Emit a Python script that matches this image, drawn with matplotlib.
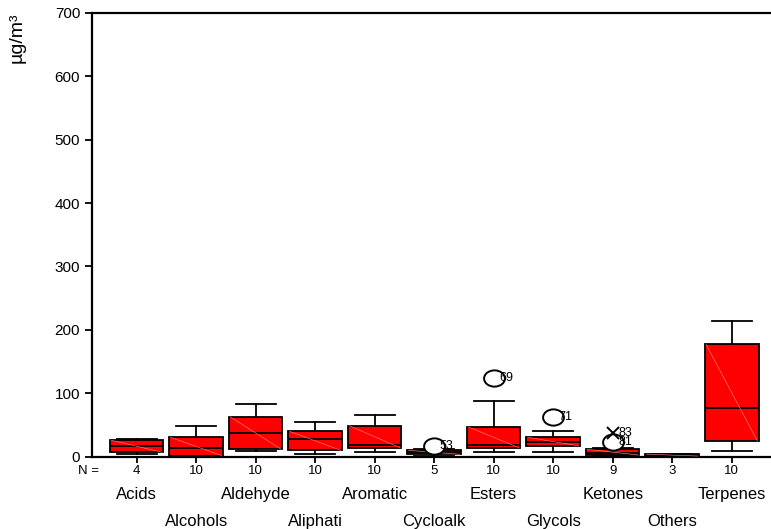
import matplotlib.pyplot as plt
import matplotlib.path as mpath
import matplotlib.transforms as mtransforms

plt.rcParams["font.family"] = ["Liberation Sans", "DejaVu Sans"]

categories = ["Acids", "Alcohols", "Aldehyde", "Aliphati", "Aromatic", "Cycloalk",
              "Esters", "Glycols", "Ketones", "Others", "Terpenes"]
counts = [4, 10, 10, 10, 10, 5, 10, 10, 9, 3, 10]
whisker_low = [4, 0.5, 9.5, 4.7, 7.4, 1, 7.4, 7.4, 0.5, 0.3, 9.5]
q1 = [7, 1.6, 11.6, 10, 14, 3.8, 14, 17, 2.7, 1, 25]
medians = [17, 14, 38, 28, 18.5, 7, 18.5, 23.7, 5.3, 2, 77]
q3 = [26, 30.6, 63, 40, 49, 10, 47, 30.6, 11.6, 4, 177]
whisker_high = [28, 49, 82.6, 54, 66, 12, 88, 40, 13, 5, 214.5]

# outliers: (category index, value, case number)
outliers = [(5, 17, "53"), (6, 124, "69"), (7, 63, "71"), (8, 22.7, "81")]
extremes = [(8, 38, "83")]

# slightly flattened open circle for outlier markers
circ = mpath.Path.unit_circle()
oval = mpath.Path(circ.vertices * [1.0, 0.78], circ.codes)

fig = plt.figure(figsize=(7.71, 5.29), dpi=100)
ax = fig.add_axes([0.1193, 0.1367, 0.8807, 0.8389])

stats = []
for i, cat in enumerate(categories):
    stats.append(dict(label=cat, whislo=whisker_low[i], q1=q1[i], med=medians[i],
                      q3=q3[i], whishi=whisker_high[i], fliers=[]))

pos = list(range(len(categories)))
ax.bxp(stats, positions=pos, widths=0.9, patch_artist=True, showfliers=False,
       boxprops=dict(facecolor="#ff0000", edgecolor="black", linewidth=1.3),
       medianprops=dict(color="black", linewidth=1.3),
       whiskerprops=dict(color="black", linewidth=1.3),
       capprops=dict(color="black", linewidth=1.3), capwidths=0.67)

# faint diagonal inside each box
for i in pos:
    ax.plot([i - 0.43, i + 0.43], [q3[i], q1[i]], color="#ff9090", lw=0.4, zorder=3)

for i, v, lab in outliers:
    ax.plot(i, v, marker=oval, ms=15, mfc="white", mec="black", mew=1.4, ls="none", zorder=4)
    ax.text(i + 0.09, v, lab, fontsize=9, va="center", ha="left", zorder=5)
for i, v, lab in extremes:
    ax.plot(i, v, marker="x", ms=9, color="black", mew=1.4, ls="none", zorder=4)
    ax.text(i + 0.09, v, lab, fontsize=9, va="center", ha="left", zorder=5)

ax.set_xlim(-0.75, 10.66)
ax.set_ylim(0, 700)
ax.set_yticks(range(0, 701, 100))
ax.set_xticks(pos)
ax.set_xticklabels([])
ax.tick_params(axis="y", direction="out", length=5, width=1.3, labelsize=11)
ax.tick_params(axis="x", direction="out", length=4, width=1.3)
for s in ["left", "bottom", "top"]:
    ax.spines[s].set_linewidth(1.6)
ax.spines["right"].set_visible(False)

trans = mtransforms.blended_transform_factory(ax.transData, ax.transAxes)
ax.text(-0.64, -0.032, "N =", transform=trans, fontsize=9.5, ha="right", va="center")
for i, n in enumerate(counts):
    ax.text(i, -0.032, str(n), transform=trans, fontsize=9.5, ha="center", va="center")
    row_y = -0.085 if i % 2 == 0 else -0.146
    ax.text(i, row_y, categories[i], transform=trans, fontsize=12, ha="center", va="center")

fig.text(0.0227, 0.929, "µg/m³", rotation=90, fontsize=14, ha="center", va="center")

fig.savefig("out.png", dpi=100)
